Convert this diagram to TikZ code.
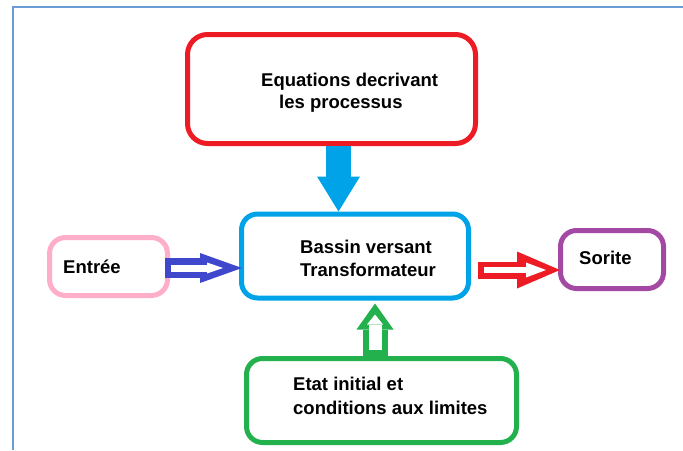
\documentclass[tikz,border=0pt]{standalone}
\usepackage{fontspec}
\setmainfont{Liberation Sans}
\usetikzlibrary{arrows.meta, calc}
\definecolor{cred}{HTML}{ED1C24}
\definecolor{cblue}{HTML}{00A2E8}
\definecolor{cpink}{HTML}{FFAEC9}
\definecolor{cindigo}{HTML}{3F48CC}
\definecolor{cpurple}{HTML}{A349A4}
\definecolor{cgreen}{HTML}{22B14C}
\definecolor{cframe}{HTML}{6A9CD6}
\tikzset{
  every picture/.style={font=\bfseries\fontsize{18.5}{23}\selectfont},
  box/.style={draw=#1, line width=5pt, rounded corners=16pt, inner sep=0pt},
  txt/.style={inner sep=0pt, anchor=base west, align=left},
  fat/.style={draw=#1, line width=25pt, -{Triangle[length=35pt, width=43pt, line width=0pt]}},
  hollow/.style={draw=#1},
  inner/.style={draw=white, shorten <=6pt},
  frame/.style={draw=cframe, line width=2pt},
}
\begin{document}
\begin{tikzpicture}[x=1pt, y=-1pt]
  \useasboundingbox (0,0) rectangle (683,450);
  \draw[frame] (683,7) -- (12.7,7) -- (12.7,450);
  % boxes
  \node[box=cred, rounded corners=20pt, minimum width=288pt, minimum height=109pt] (eq) at (331.5,89) {};
  \node[box=cblue, minimum width=227pt, minimum height=84pt] (bv) at (355,256) {};
  \node[box=cpink, minimum width=118pt, minimum height=58pt] (en) at (108.5,266.5) {};
  \node[box=cpurple, minimum width=103pt, minimum height=58pt] (so) at (612,259.5) {};
  \node[box=cgreen, minimum width=270pt, minimum height=84pt] (gr) at (381.5,400.5) {};
  % texts (base = last line)
  \node[txt] (eqT) at (261,108) {Equations decrivant\\[-1pt]\hspace*{18pt}les processus};
  \node[txt] (bvT) at (300,276) {Bassin versant\\Transformateur};
  \node[txt] (enT) at (63,273) {Entrée};
  \node[txt] (soT) at (579,264) {Sorite};
  \node[txt] (grT) at (293,414) {Etat initial et\\[1pt]conditions aux limites};
  % arrows
  \coordinate (eqOut) at ([xshift=7pt]eq.south);
  \draw[fat=cblue] (eqOut) -- (eqOut |- bv.north);
  \coordinate (enOut) at ([xshift=-5pt,yshift=-1.5pt]en.east);
  \coordinate (bvIn) at ([xshift=3pt]bv.west);
  \draw[hollow=cindigo, line width=20pt, -{Triangle[length=42pt, width=30pt, line width=0pt]},
        postaction={inner, line width=7pt, shorten >=19pt, -{Triangle[length=16pt, width=11pt, line width=0pt]}}]
    (enOut) -- (bvIn |- enOut);
  \coordinate (bvOut) at ([xshift=7pt,yshift=-14pt]bv.east);
  \coordinate (soIn) at ([xshift=2pt]so.west);
  \draw[hollow=cred, line width=17pt, -{Triangle[length=43pt, width=37pt, line width=0pt]},
        postaction={inner, line width=6pt, shorten >=14pt, -{Triangle[length=20pt, width=15pt, line width=0pt]}}]
    (bvOut) -- (soIn |- bvOut);
  \coordinate (grOut) at ([xshift=-6.5pt]gr.north);
  \coordinate (bvUp) at ([yshift=-3pt]bv.south);
  \draw[hollow=cgreen, line width=25pt, -{Triangle[length=26pt, width=37pt, line width=0pt]},
        postaction={inner, line width=13pt, shorten >=11pt, -{Triangle[length=10pt, width=16pt, line width=0pt]}}]
    (grOut) -- (grOut |- bvUp);
\end{tikzpicture}
\end{document}
